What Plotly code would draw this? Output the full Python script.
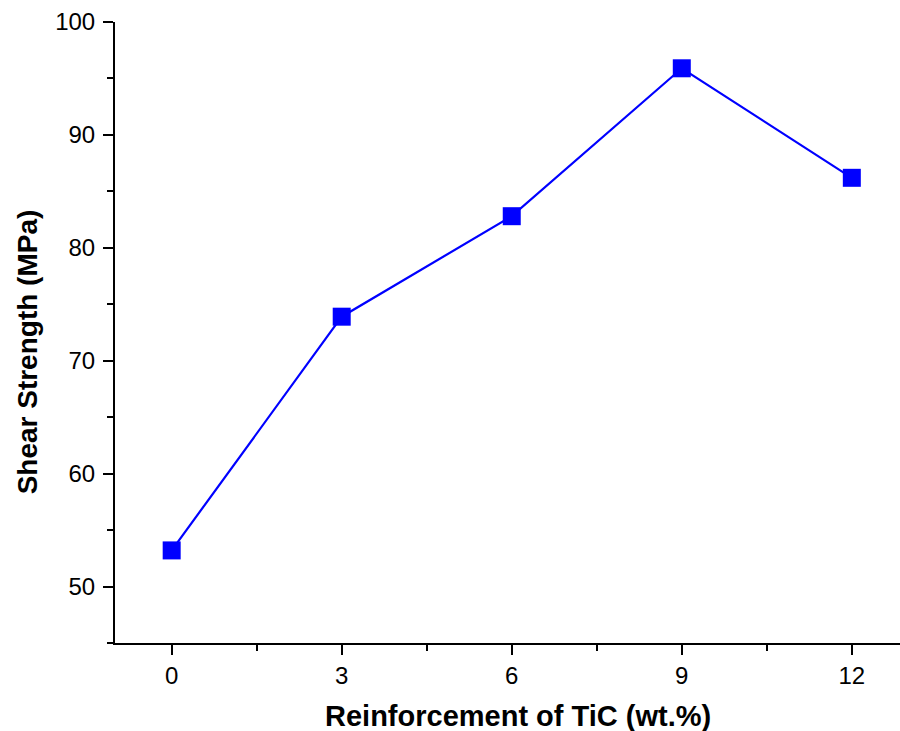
import plotly.graph_objects as go

tic_wt = [0, 3, 6, 9, 12]
shear_strength = [53.2, 73.9, 82.8, 95.9, 86.2]
x_title = "<b>Reinforcement of TiC (wt.%)</b>"
y_title = "<b>Shear Strength (MPa)</b>"

fig = go.Figure()
fig.add_trace(go.Scatter(
    x=tic_wt, y=shear_strength, mode="lines+markers",
    line=dict(color="#0000ff", width=2.2),
    marker=dict(symbol="square", size=18, color="#0000ff"),
    showlegend=False,
))

axis_common = dict(
    showline=True, linecolor="black", linewidth=2, mirror=False,
    showgrid=False, zeroline=False,
    ticks="outside", ticklen=10, tickwidth=2, tickcolor="black",
    tickfont=dict(family="Liberation Sans, Arial", size=24, color="black"),
)

fig.update_xaxes(
    range=[-1, 12.85], tickvals=[0, 3, 6, 9, 12],
    ticklabelstandoff=0,
    minor=dict(ticks="outside", ticklen=6, tickwidth=2, tickcolor="black", dtick=1.5, tick0=0),
    **axis_common,
)
fig.update_yaxes(
    range=[45, 100], tickvals=[50, 60, 70, 80, 90, 100],
    ticklabelstandoff=3,
    minor=dict(ticks="outside", ticklen=6, tickwidth=2, tickcolor="black", dtick=5, tick0=0),
    **axis_common,
)

fig.add_annotation(
    text=x_title, xref="paper", yref="paper", x=0.513, y=-0.1176,
    xanchor="center", yanchor="middle", showarrow=False,
    font=dict(family="Liberation Sans, Arial", size=29, color="black"),
)
fig.add_annotation(
    text=y_title, xref="paper", yref="paper", x=-0.1121, y=0.468,
    xanchor="center", yanchor="middle", showarrow=False, textangle=-90,
    font=dict(family="Liberation Sans, Arial", size=28, color="black"),
)

fig.update_layout(
    width=900, height=731,
    margin=dict(l=115, r=0, t=22, b=88),
    plot_bgcolor="white", paper_bgcolor="white",
)

fig.write_html("out.html", config={"displayModeBar": False},
               post_script="document.body.style.margin='0';")
